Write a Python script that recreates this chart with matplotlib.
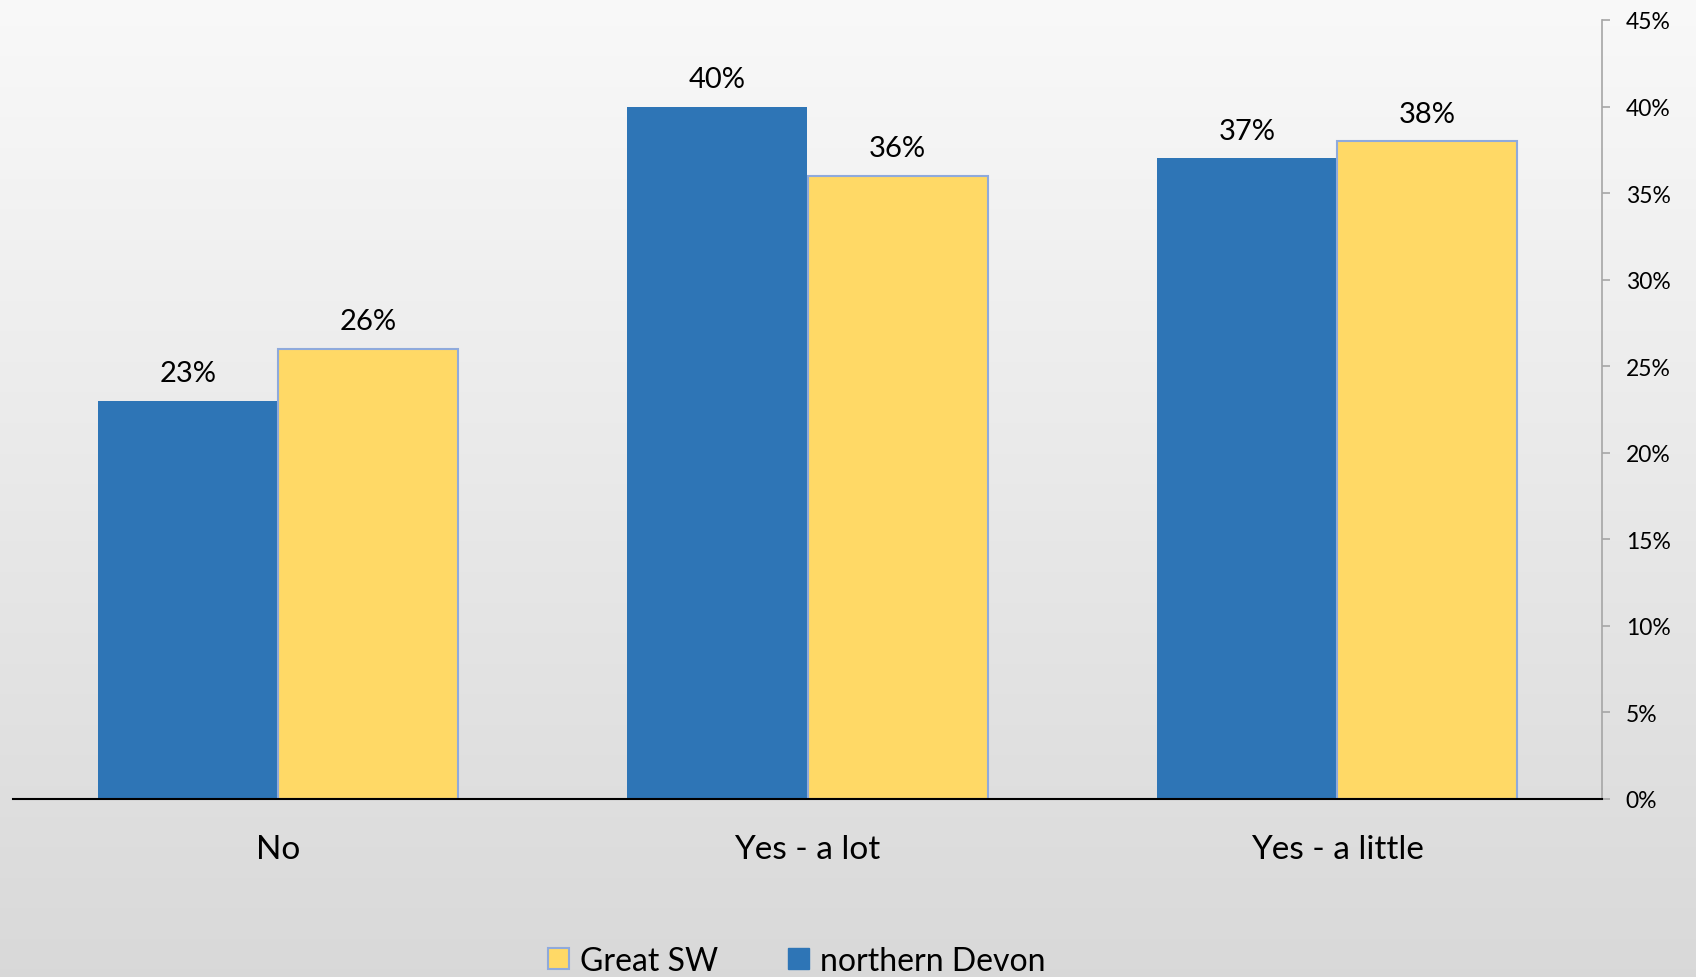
import numpy as np
import matplotlib
matplotlib.use("Agg")
import matplotlib.pyplot as plt
from matplotlib.patches import Patch

plt.rcParams['font.family'] = ['Lato', 'DejaVu Sans']

categories = ["No", "Yes - a lot", "Yes - a little"]
northern_devon = [23, 40, 37]
great_sw = [26, 36, 38]
yticks = [0, 5, 10, 15, 20, 25, 30, 35, 40, 45]

blue = "#2E75B6"
yellow = "#FFD966"
edge = "#8FAADC"

W, H = 1696, 978
fig = plt.figure(figsize=(W / 100, H / 100), dpi=100)

# background gradient
bg = fig.add_axes([0, 0, 1, 1], zorder=-10)
grad = np.linspace(0.976, 0.85, 256).reshape(-1, 1)
bg.imshow(np.dstack([grad, grad, grad]), aspect="auto", extent=[0, 1, 0, 1])
bg.set_axis_off()

ax = fig.add_axes([13 / W, 1 - 800 / H, (1602 - 13) / W, (800 - 21) / H])
ax.set_facecolor("none")

x = np.arange(len(categories))
bw = 0.34
b1 = ax.bar(x - bw / 2, northern_devon, bw, color=blue, linewidth=0, zorder=3)
b2 = ax.bar(x + bw / 2, great_sw, bw, color=yellow, edgecolor=edge, linewidth=1.5, zorder=3)

for bars, vals in [(b1, northern_devon), (b2, great_sw)]:
    for r, v in zip(bars, vals):
        ax.annotate(f"{v}%", (r.get_x() + r.get_width() / 2, v), xytext=(0, 14),
                    textcoords="offset points", ha="center", va="baseline", fontsize=21)

ax.set_xlim(-0.5, 2.5)
ax.set_ylim(0, 45)
ax.set_xticks(x)
ax.set_xticklabels(categories, fontsize=24)
ax.tick_params(axis="x", length=0, pad=25.5)

ax.yaxis.tick_right()
ax.set_yticks(yticks)
ax.set_yticklabels([f"{t}%" for t in yticks], fontsize=16.5)
ax.tick_params(axis="y", direction="out", length=6, color="#a6a6a6", width=1.2, pad=11)

for s in ["top", "left"]:
    ax.spines[s].set_visible(False)
ax.spines["right"].set_color("#a6a6a6")
ax.spines["right"].set_linewidth(1.2)
ax.spines["bottom"].set_color("black")
ax.spines["bottom"].set_linewidth(1.5)
ax.spines["bottom"].set_zorder(4)

handles = [Patch(facecolor=yellow, edgecolor=edge, linewidth=1.5, label="Great SW"),
           Patch(facecolor=blue, edgecolor=blue, label="northern Devon")]
fig.legend(handles=handles, loc="center", bbox_to_anchor=(797 / W, 1 - 962 / H), ncol=2,
           frameon=False, fontsize=23, handlelength=0.65, handleheight=0.65,
           handletextpad=0.35, columnspacing=2.2)

fig.savefig("out.png", dpi=100)
